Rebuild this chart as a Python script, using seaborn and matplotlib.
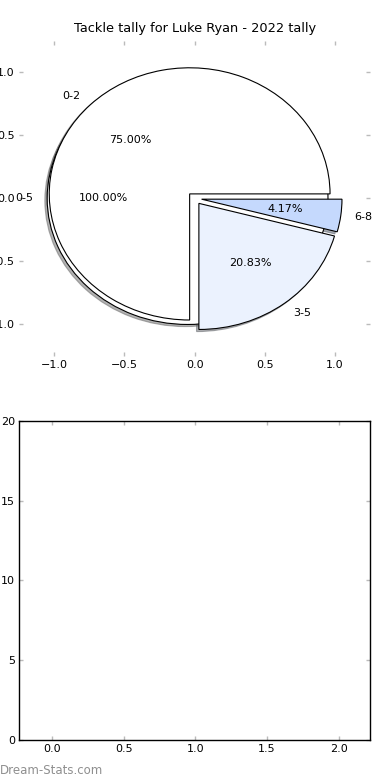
import matplotlib
matplotlib.use('Agg')
import matplotlib.pyplot as plt
import seaborn as sns

# Tackle tally data
overall_labels = ['0-5']
overall_counts = [24]
tally_labels = ['0-2', '3-5', '6-8']
tally_counts = [18, 5, 1]
tally_colors = ['#ffffff', '#ebf2fe', '#c5d9fd']

# Empty per-game panel
game_ticks = [0.0, 0.5, 1.0, 1.5, 2.0]
tackle_ticks = [0, 5, 10, 15, 20]

sns.set_theme(style='white', rc={
    'xtick.direction': 'in', 'ytick.direction': 'in',
    'xtick.color': '#bbbbbb', 'ytick.color': '#bbbbbb',
    'xtick.labelcolor': 'black', 'ytick.labelcolor': 'black',
    'xtick.major.size': 3, 'ytick.major.size': 3,
    'xtick.major.width': 1, 'ytick.major.width': 1,
    'xtick.major.pad': 3, 'ytick.major.pad': 3,
    'xtick.top': True, 'ytick.right': True,
    'xtick.bottom': True, 'ytick.left': True,
    'xtick.labelsize': 8, 'ytick.labelsize': 8,
    'axes.edgecolor': 'black', 'axes.linewidth': 1,
    'text.color': 'black', 'axes.titlecolor': 'black',
})
plt.rcParams['font.family'] = ['DejaVu Sans']

fig = plt.figure(figsize=(3.9, 7.8), dpi=100)
ax = fig.add_axes([0.049, 0.5436, 0.9, 0.4042])
ax2 = fig.add_axes([0.049, 0.0513, 0.9, 0.409])

# Pie - overall range underneath, then split ranges on top
wp = {'edgecolor': 'black', 'linewidth': 0.8}
shad = {'ox': -0.012, 'oy': -0.012, 'shade': 0.6}
ax.pie(overall_counts, labels=overall_labels, colors=['#ffffff'], explode=[0.05],
       autopct='%.2f%%', startangle=0, shadow=shad, frame=True, wedgeprops=wp,
       textprops={'fontsize': 8, 'color': 'black'})
ax.pie(tally_counts, labels=tally_labels, colors=tally_colors, explode=[0.05] * 3,
       autopct='%.2f%%', startangle=0, shadow=shad, frame=True, wedgeprops=wp,
       textprops={'fontsize': 8, 'color': 'black'})
ax.set_aspect('auto')
ax.set_xlim(-1.25, 1.25)
ax.set_ylim(-1.25, 1.25)
ax.set_xticks([-1.0, -0.5, 0.0, 0.5, 1.0])
ax.set_yticks([-1.0, -0.5, 0.0, 0.5, 1.0])
for s in ax.spines.values():
    s.set_visible(False)
ax.set_title('Tackle tally for Luke Ryan - 2022 tally', fontsize=9.3)

# Empty panel
ax2.set_xlim(-0.23, 2.22)
ax2.set_ylim(0, 20)
ax2.set_xticks(game_ticks)
ax2.set_yticks(tackle_ticks)

fig.text(0.0, 0.008, 'Dream-Stats.com', color='#8f8f8f', fontsize=8.5)

plt.savefig('out.png', dpi=100)
